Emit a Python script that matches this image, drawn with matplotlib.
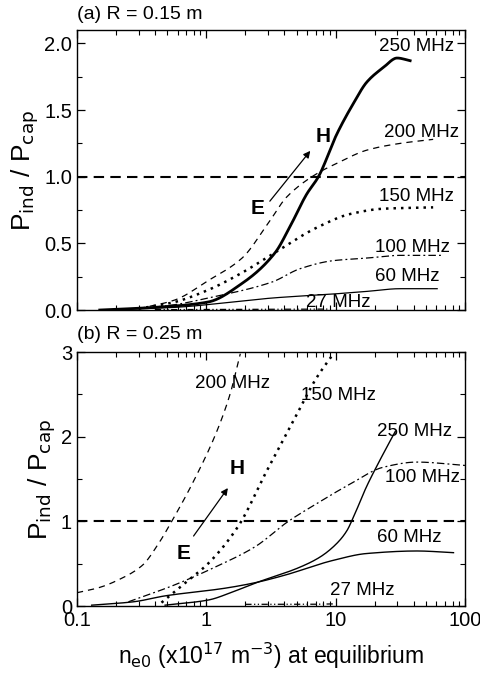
import numpy as np
import matplotlib
matplotlib.use("Agg")
import matplotlib.pyplot as plt
from matplotlib.ticker import LogLocator, MultipleLocator, NullFormatter

plt.rcParams['font.family'] = ['Liberation Sans', 'DejaVu Sans']

# ---- data, panel (a) R = 0.15 m ----
a250_x = [0.15, 0.4, 1.03, 1.89, 3.4, 4.4, 5.97, 7.35, 10.2, 13.7, 17.4, 23.4, 29.8, 37.6]
a250_y = [0.0, 0.02, 0.06, 0.20, 0.43, 0.62, 0.87, 1.0, 1.32, 1.55, 1.71, 1.82, 1.89, 1.87]
a200_x = [0.3, 0.57, 1.03, 1.89, 3.0, 4.2, 7.35, 10.2, 17.5, 31.5, 56.6]
a200_y = [0.01, 0.075, 0.22, 0.39, 0.65, 0.85, 1.03, 1.10, 1.20, 1.25, 1.28]
a150_x = [0.3, 0.57, 1.03, 1.89, 3.5, 7.2, 12.9, 23.4, 56.6]
a150_y = [0.01, 0.06, 0.15, 0.28, 0.44, 0.62, 0.72, 0.76, 0.77]
a100_x = [0.3, 0.57, 1.03, 3.22, 5.3, 9.5, 17.5, 31.5, 67.6]
a100_y = [0.01, 0.04, 0.09, 0.21, 0.31, 0.37, 0.39, 0.41, 0.41]
a60_x = [0.15, 0.57, 1.6, 3.22, 9.5, 17.5, 31.5, 60.8]
a60_y = [0.0, 0.02, 0.06, 0.09, 0.12, 0.14, 0.16, 0.16]
a27_x = [0.4, 1.0, 2.9, 5.0, 9.0]
a27_y = [0.003, 0.004, 0.005, 0.006, 0.007]

# ---- data, panel (b) R = 0.25 m ----
b200_x = [0.1, 0.15, 0.21, 0.32, 0.42, 0.54, 0.8, 1.21, 1.53, 1.83]
b200_y = [0.157, 0.22, 0.31, 0.48, 0.72, 1.0, 1.48, 2.07, 2.51, 2.98]
b150_x = [0.45, 0.52, 0.68, 1.03, 1.76, 2.94, 4.72, 7.14, 9.6]
b150_y = [0.04, 0.12, 0.27, 0.50, 0.94, 1.60, 2.19, 2.70, 2.98]
b100_x = [0.25, 0.57, 1.17, 2.38, 4.3, 7.14, 12.9, 23.4, 42.4, 100]
b100_y = [0.05, 0.25, 0.46, 0.70, 1.0, 1.21, 1.44, 1.64, 1.70, 1.66]
b250_x = [0.48, 1.03, 1.62, 2.38, 5.31, 7.59, 10.2, 12.2, 13.7, 17.3, 21.9, 28.8]
b250_y = [0.01, 0.07, 0.17, 0.27, 0.46, 0.58, 0.74, 0.89, 1.05, 1.41, 1.72, 2.06]
b60_x = [0.13, 0.274, 0.48, 1.39, 2.38, 3.95, 9.6, 17.3, 42.4, 81.3]
b60_y = [0.01, 0.05, 0.12, 0.21, 0.275, 0.36, 0.54, 0.62, 0.65, 0.63]
b27_x = [2.0, 4.0, 6.0, 9.6]
b27_y = [0.02, 0.02, 0.02, 0.025]


def smooth(x, y, n=300):
    # monotone cubic (pchip) through the read points, in log x
    lx = np.log10(np.asarray(x, float))
    y = np.asarray(y, float)
    h = np.diff(lx)
    d = np.diff(y) / h
    m = np.zeros_like(y)
    for i in range(1, len(y) - 1):
        if d[i - 1] * d[i] > 0:
            w1 = 2 * h[i] + h[i - 1]
            w2 = h[i] + 2 * h[i - 1]
            m[i] = (w1 + w2) / (w1 / d[i - 1] + w2 / d[i])
    m[0] = d[0]
    m[-1] = d[-1]
    xs = np.linspace(lx[0], lx[-1], n)
    k = np.clip(np.searchsorted(lx, xs) - 1, 0, len(h) - 1)
    t = (xs - lx[k]) / h[k]
    h00 = 2 * t**3 - 3 * t**2 + 1
    h10 = t**3 - 2 * t**2 + t
    h01 = -2 * t**3 + 3 * t**2
    h11 = t**3 - t**2
    ys = h00 * y[k] + h10 * h[k] * m[k] + h01 * y[k + 1] + h11 * h[k] * m[k + 1]
    return 10 ** xs, ys


dashed = (0, (5, 4))
dotted = (0, (1, 2))
dashdot = (0, (6, 2.5, 1.5, 2.5))
dashdotdot = (0, (5, 2, 1, 2, 1, 2))

fig = plt.figure(figsize=(4.81, 6.75), dpi=100)
ax1 = fig.add_axes([0.160, 0.5407, 0.807, 0.4148])
ax2 = fig.add_axes([0.160, 0.1022, 0.807, 0.3763])

for ax in (ax1, ax2):
    ax.set_xscale('log')
    ax.set_xlim(0.1, 100)

# panel (a)
ax1.plot(*smooth(a250_x, a250_y), color='k', lw=2.0)
ax1.plot(*smooth(a200_x, a200_y), color='k', lw=0.9, ls=dashed)
ax1.plot(*smooth(a150_x, a150_y), color='k', lw=1.8, ls=dotted)
ax1.plot(*smooth(a100_x, a100_y), color='k', lw=0.9, ls=dashdot)
ax1.plot(*smooth(a60_x, a60_y), color='k', lw=0.9)
ax1.plot(*smooth(a27_x, a27_y), color='k', lw=0.9, ls=dashdotdot)
ax1.axhline(1.0, color='k', lw=1.5, ls=(0, (5, 3)))
ax1.set_ylim(0, 2.1)
ax1.set_yticks([0, 0.5, 1.0, 1.5, 2.0], labels=['0.0', '0.5', '1.0', '1.5', '2.0'])
ax1.yaxis.set_minor_locator(MultipleLocator(0.25))

lab = dict(fontsize=13.5, ha='center', va='center')
ax1.text(42, 1.98, '250 MHz', **lab)
ax1.text(46, 1.33, '200 MHz', **lab)
ax1.text(42, 0.85, '150 MHz', **lab)
ax1.text(39, 0.47, '100 MHz', **lab)
ax1.text(36, 0.25, '60 MHz', **lab)
ax1.text(10.4, 0.06, '27 MHz', **lab)
ax1.text(8.0, 1.30, 'H', fontsize=15, fontweight='bold', ha='center', va='center')
ax1.text(2.47, 0.76, 'E', fontsize=15, fontweight='bold', ha='center', va='center')
ax1.annotate('', xy=(6.56, 1.21), xytext=(3.0, 0.80),
             arrowprops=dict(arrowstyle='-|>', color='k', lw=0.9, mutation_scale=10))
fig.text(0.160, 0.978, '(a) R = 0.15 m', fontsize=14, ha='left', va='center')

# panel (b)
ax2.plot(*smooth(b200_x, b200_y), color='k', lw=0.9, ls=dashed)
ax2.plot(*smooth(b150_x, b150_y), color='k', lw=1.8, ls=dotted)
ax2.plot(*smooth(b100_x, b100_y), color='k', lw=0.9, ls=dashdot)
ax2.plot(*smooth(b250_x, b250_y), color='k', lw=1.0)
ax2.plot(*smooth(b60_x, b60_y), color='k', lw=1.0)
ax2.plot(*smooth(b27_x, b27_y), color='k', lw=0.9, ls=dashdotdot)
ax2.axhline(1.0, color='k', lw=1.5, ls=(0, (5, 3)))
ax2.set_ylim(0, 3)
ax2.set_yticks([0, 1, 2, 3])
ax2.yaxis.set_minor_locator(MultipleLocator(0.5))

ax2.text(1.6, 2.63, '200 MHz', **lab)
ax2.text(10.5, 2.49, '150 MHz', **lab)
ax2.text(40.4, 2.06, '250 MHz', **lab)
ax2.text(46.9, 1.52, '100 MHz', **lab)
ax2.text(37, 0.81, '60 MHz', **lab)
ax2.text(15.9, 0.185, '27 MHz', **lab)
ax2.text(1.74, 1.62, 'H', fontsize=15, fontweight='bold', ha='center', va='center')
ax2.text(0.667, 0.62, 'E', fontsize=15, fontweight='bold', ha='center', va='center')
ax2.annotate('', xy=(1.51, 1.42), xytext=(0.774, 0.80),
             arrowprops=dict(arrowstyle='-|>', color='k', lw=0.9, mutation_scale=10))
fig.text(0.160, 0.504, '(b) R = 0.25 m', fontsize=14, ha='left', va='center')

for ax in (ax1, ax2):
    ax.xaxis.set_minor_locator(LogLocator(base=10, subs=np.arange(2, 10), numticks=10))
    ax.xaxis.set_minor_formatter(NullFormatter())
    ax.tick_params(which='both', direction='in', top=True, right=True, labelsize=14.5)
    ax.tick_params(which='major', length=6, width=0.9)
    ax.tick_params(which='minor', length=3.5, width=0.8)
    for s in ax.spines.values():
        s.set_linewidth(1.0)
    ax.set_ylabel(r'P$_{\mathrm{ind}}$ / P$_{\mathrm{cap}}$', fontsize=19, labelpad=2)

ax1.set_xticks([0.1, 1, 10, 100], labels=[])
ax2.set_xticks([0.1, 1, 10, 100], labels=['0.1', '1', '10', '100'])
ax2.set_xlabel(r'n$_{\mathrm{e0}}$ (x10$^{17}$ m$^{-3}$) at equilibrium', fontsize=16.5, labelpad=8)

fig.savefig('out.png', dpi=100)
